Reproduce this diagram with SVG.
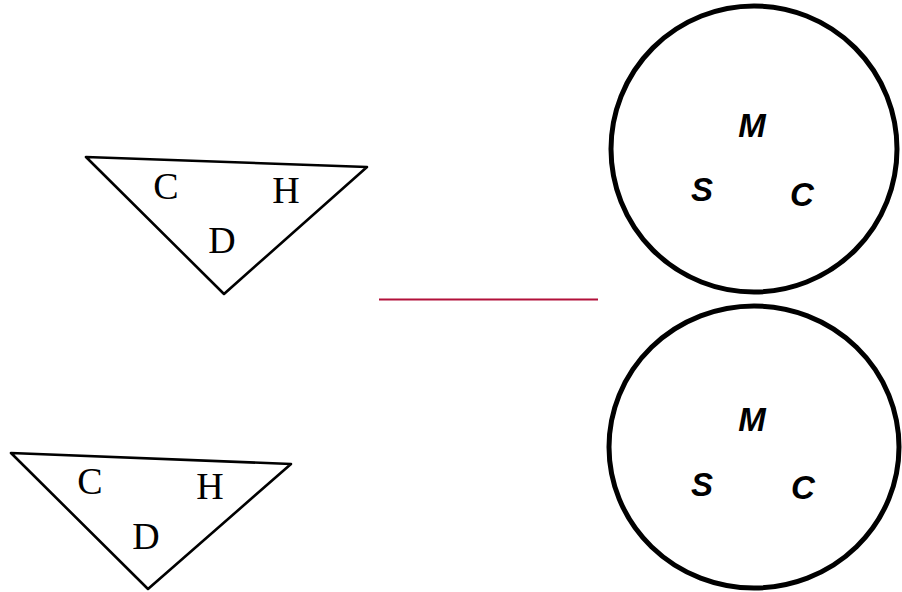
<svg xmlns="http://www.w3.org/2000/svg" width="902" height="592" viewBox="0 0 902 592">
<style>
.tri{fill:none;stroke:#000;stroke-width:2.6;stroke-linejoin:round}
.circ{fill:none;stroke:#000;stroke-width:5}
.serif{font-family:"Liberation Serif","Times New Roman",serif;font-size:38px;fill:#000;text-anchor:middle}
.sans{font-family:"Liberation Sans",Arial,sans-serif;font-weight:bold;font-style:italic;font-size:33px;fill:#000;text-anchor:middle}
.rule{stroke:#b2103a;stroke-width:2;fill:none}
</style>
<rect width="902" height="592" fill="#fff"/>
<g id="triangle-top">
<polygon class="tri" points="86,157 367,167 224,294"/>
<text class="serif" x="166" y="199">C</text>
<text class="serif" x="286" y="203">H</text>
<text class="serif" x="222" y="253">D</text>
</g>
<g id="triangle-bottom">
<polygon class="tri" points="11,453 291,464 148,589"/>
<text class="serif" x="90" y="494">C</text>
<text class="serif" x="210" y="499">H</text>
<text class="serif" x="146" y="549">D</text>
</g>
<g id="circle-top">
<circle class="circ" cx="754" cy="149" r="143"/>
<text class="sans" x="752" y="137">M</text>
<text class="sans" x="702" y="201">S</text>
<text class="sans" x="802" y="206">C</text>
</g>
<g id="circle-bottom">
<ellipse class="circ" cx="754" cy="447" rx="145" ry="141"/>
<text class="sans" x="752" y="431">M</text>
<text class="sans" x="702" y="496">S</text>
<text class="sans" x="803" y="499">C</text>
</g>
<g id="connectors">
<line class="rule" x1="379" y1="299.5" x2="598" y2="299.5"/>
</g>
</svg>
